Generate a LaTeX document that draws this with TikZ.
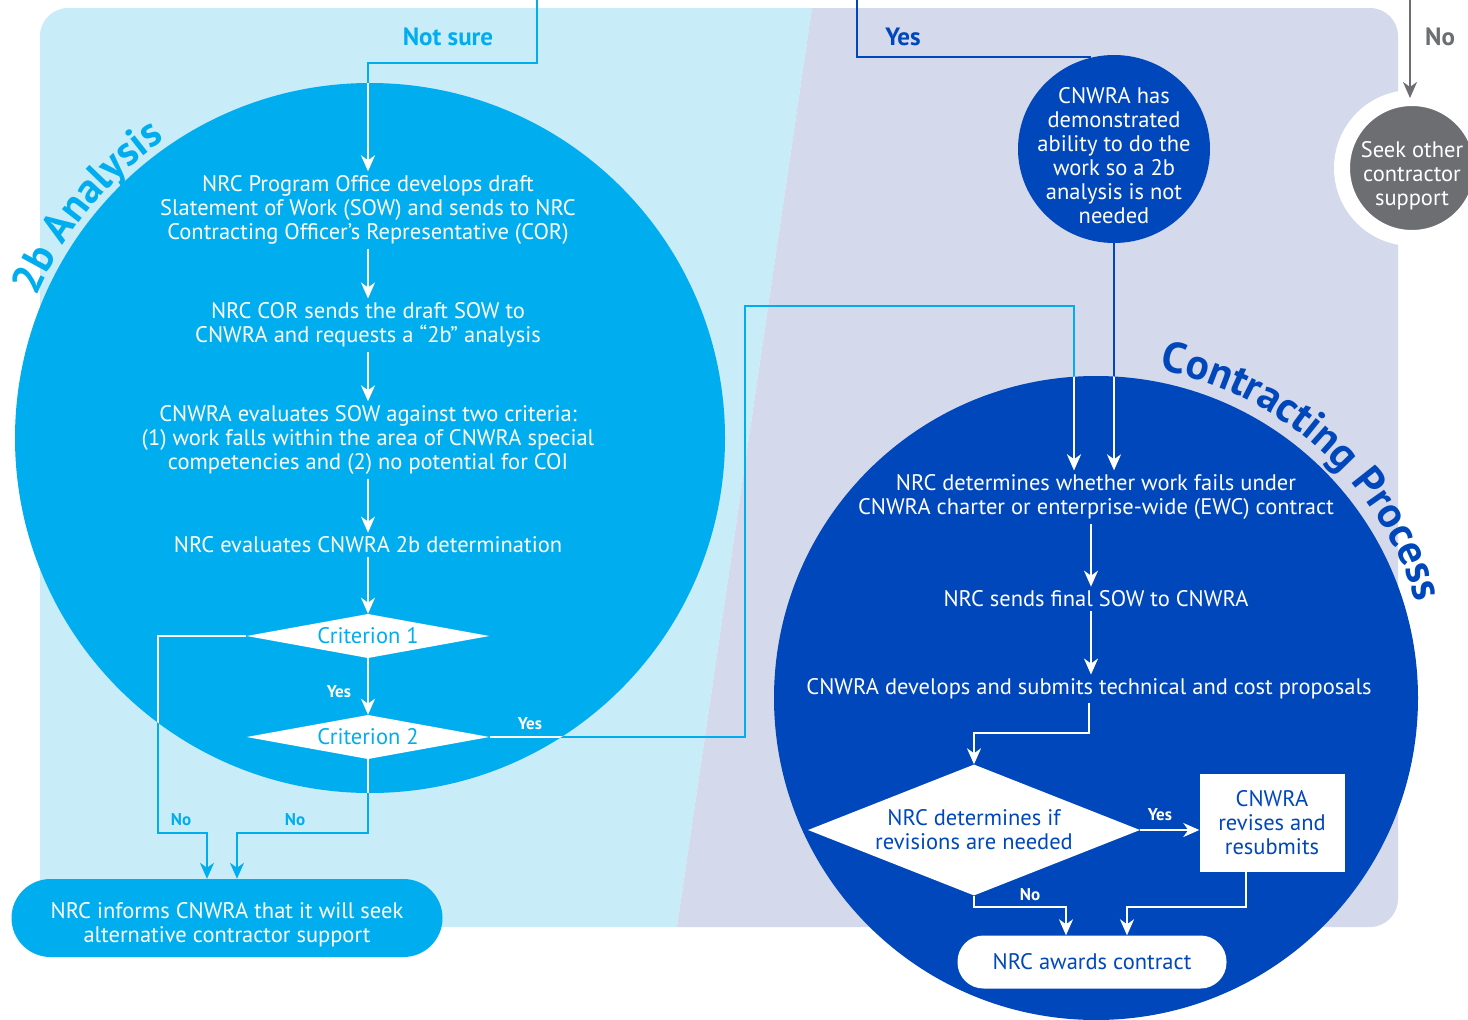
\documentclass[tikz,border=0pt]{standalone}
\usepackage{fontspec}
\setmainfont{PT Sans}
\usetikzlibrary{shapes.geometric,arrows.meta,decorations.text,calc}
\definecolor{cyanc}{HTML}{00AEEF}
\definecolor{lblue}{HTML}{C9ECF9}
\definecolor{lav}{HTML}{D4D9EC}
\definecolor{dblue}{HTML}{0047BB}
\definecolor{grayc}{HTML}{6D6E71}
\begin{document}
\begin{tikzpicture}[x=1pt,y=-1pt,
  body/.style={align=center, font=\fontsize{22.5}{24}\selectfont, inner sep=4pt},
  wtext/.style={body, text=white},
  lab/.style={font=\bfseries\fontsize{17}{17}\selectfont, inner sep=0pt},
  toplab/.style={font=\bfseries\fontsize{25}{25}\selectfont, inner sep=0pt},
  tipped/.style={-{Stealth[length=16pt,width=14pt,inset=5pt]}},
  conn/.style={line width=2pt, tipped},
  wconn/.style={conn, draw=white},
  cconn/.style={conn, draw=cyanc},
  bconn/.style={conn, draw=dblue},
  dia/.style={diamond, fill=white, inner sep=0pt, body},
  pill/.style={rectangle, body}
]
\useasboundingbox (0,0) rectangle (1468,1020);
% backgrounds
\begin{scope}
  \clip (0,0) -- (812,0) -- (812,8) -- (677,927) -- (677,1020) -- (0,1020) -- cycle;
  \fill[lblue, rounded corners=28pt] (40,8) rectangle (1398,927);
\end{scope}
\begin{scope}
  \clip (812,0) -- (812,8) -- (677,927) -- (677,1020) -- (1468,1020) -- (1468,0) -- cycle;
  \fill[lav, rounded corners=28pt] (40,8) rectangle (1398,927);
\end{scope}
% big circles
\node[circle, fill=cyanc, minimum size=710pt, inner sep=0pt] (Lc) at (370,438) {};
\node[circle, fill=dblue, minimum size=644pt, inner sep=0pt] (Rc) at (1096,698) {};
% curved titles
\path[decorate, decoration={text along path, text align=left,
  text={|\bfseries\fontsize{42}{42}\selectfont\color{cyanc}|2b Analysis}}]
  (370,438) ++(-157:362) arc[start angle=-157, end angle=-95, radius=362];
\path[decorate, decoration={text along path, text align=left,
  text={|\bfseries\fontsize{43}{43}\selectfont\color{dblue}|Contracting Process}}]
  (1096,698) ++(-79:334) arc[start angle=-79, end angle=0, radius=334];
% gray circle with white ring
\node[circle, fill=grayc, draw=white, line width=16pt, minimum size=140pt, inner sep=0pt, outer sep=0pt] (gc) at (1412,168) {};
\node[wtext] (gct) at (1412,176) {Seek other\\contractor\\support};
% small ellipse
\node[ellipse, fill=dblue, minimum width=192pt, minimum height=188pt, inner sep=0pt] (ell) at (1114,149) {};
\node[wtext] (ellt) at (1114,156) {CNWRA has\\demonstrated\\ability to do the\\work so a 2b\\analysis is not\\needed};
% top labels
\node[toplab, text=cyanc] (lnotsure) at (448,37) {Not sure};
\node[toplab, text=dblue] (lyestop) at (903,37) {Yes};
\node[toplab, text=grayc] (lnotop) at (1440,37) {No};
% left circle nodes
\node[wtext] (n1) at (368,210) {NRC Program Office develops draft\\Slatement of Work (SOW) and sends to NRC\\Contracting Officer’s Representative (COR)};
\node[wtext] (n2) at (368,325) {NRC COR sends the draft SOW to\\CNWRA and requests a “2b” analysis};
\node[wtext] (n3) at (368,440) {CNWRA evaluates SOW against two criteria:\\(1) work falls within the area of CNWRA special\\competencies and (2) no potential for COI};
\node[wtext] (n4) at (368,545) {NRC evaluates CNWRA 2b determination};
\node[dia, text=cyanc, minimum width=236pt, minimum height=38pt, aspect=5.5] (c1) at (368,636) {Criterion 1};
\node[dia, text=cyanc, minimum width=238pt, minimum height=39pt, aspect=5.5] (c2) at (368,737) {Criterion 2};
\node[pill, fill=cyanc, rounded corners=39pt, minimum width=431pt, minimum height=78pt] (inform) at (227,918) {};
\node[wtext] (informt) at (227,925) {NRC informs CNWRA that it will seek\\alternative contractor support};
% right circle nodes
\node[wtext] (r1) at (1096,497) {NRC determines whether work fails under\\CNWRA charter or enterprise-wide (EWC) contract};
\node[wtext] (r2) at (1096,599) {NRC sends final SOW to CNWRA};
\node[wtext] (r3) at (1089,689) {CNWRA develops and submits technical and cost proposals};
\node[dia, text=dblue, minimum width=332pt, minimum height=131pt, aspect=2.53] (dm) at (974,830) {NRC determines if\\revisions are needed};
\node[rectangle, fill=white, body, text=dblue, minimum width=145pt, minimum height=98pt] (box) at (1272,823) {CNWRA\\revises and\\resubmits};
\node[pill, fill=white, text=dblue, rounded corners=26pt, minimum width=269pt, minimum height=53pt] (award) at (1092,962) {NRC awards contract};
% small labels
\node[lab, text=white] (ly1) at (339,692) {Yes};
\node[lab, text=white] (ly2) at (530,724) {Yes};
\node[lab, text=cyanc] (ln1) at (181,820) {No};
\node[lab, text=cyanc] (ln2) at (295,820) {No};
\node[lab, text=white] (ly3) at (1160,815) {Yes};
\node[lab, text=white] (ln3) at (1030,895) {No};
% coordinates
\coordinate (ns0) at (537,0);
\coordinate (ns1) at (537,63);
\coordinate (ys0) at (857,0);
\coordinate (no0) at (1410,0);
\coordinate (a1) at (158,833);
\coordinate (a2) at (207,833);
\coordinate (a3) at (368,833);
\coordinate (a4) at (237,833);
\coordinate (b1) at (745,737);
\coordinate (b2) at (1074,306);
\coordinate (colr) at (1091,0);
\coordinate (d1) at (1089,733);
\coordinate (e2) at (1066,907);
\coordinate (e3) at (1127,907);
\coordinate (e4) at (1246,907);
% path definitions
\def\cnxNS{(ns0) -- (ns1) -| (n1.north)}
\def\cnxCa{(c1.west) -| (a1) -- (a2) -- (a2 |- inform.north)}
\def\cnxCb{(c2.south) -- (a3) -- (a4) -- (a4 |- inform.north)}
\def\cnxCy{(c2.east) -- (b1) |- (b2) -- (b2 |- r1.north)}
\def\cnxEl{(ell.south) -- (ell.south |- r1.north)}
% outside colours
\draw[line width=2pt, dblue] (ys0) |- (ell.104);
\draw[conn, draw=grayc] (no0) -- (no0 |- gc.north);
\draw[cconn] \cnxNS;
\draw[cconn] \cnxCa;
\draw[cconn] \cnxCb;
\draw[cconn] \cnxCy;
\draw[bconn] \cnxEl;
% white inside the left circle
\begin{scope}
  \clip (370,438) circle[radius=355];
  \draw[wconn] \cnxNS;
  \draw[wconn] \cnxCa;
  \draw[wconn] \cnxCb;
  \draw[wconn] \cnxCy;
\end{scope}
% white inside the right circle
\begin{scope}
  \clip (1096,698) circle[radius=322];
  \draw[wconn] \cnxCy;
  \draw[wconn] \cnxEl;
\end{scope}
% inner arrows
\draw[wconn] (n1.south) -- (n2.north);
\draw[wconn] (n2.south) -- (n3.north);
\draw[wconn] (n3.south) -- (n4.north);
\draw[wconn] (n4.south) -- (c1.north);
\draw[wconn] (c1.south) -- (c2.north);
\draw[wconn] (colr |- r1.south) -- (colr |- r2.north);
\draw[wconn] (colr |- r2.south) -- (colr |- r3.north);
\draw[wconn] (r3.south) -- (d1) -| (dm.north);
\draw[wconn] (dm.east) -- (dm.east -| box.west);
\draw[wconn] (dm.south) |- (e2) -- (e2 |- award.north);
\draw[wconn] (e4 |- box.south) -- (e4) -- (e3) -- (e3 |- award.north);
\end{tikzpicture}
\end{document}
